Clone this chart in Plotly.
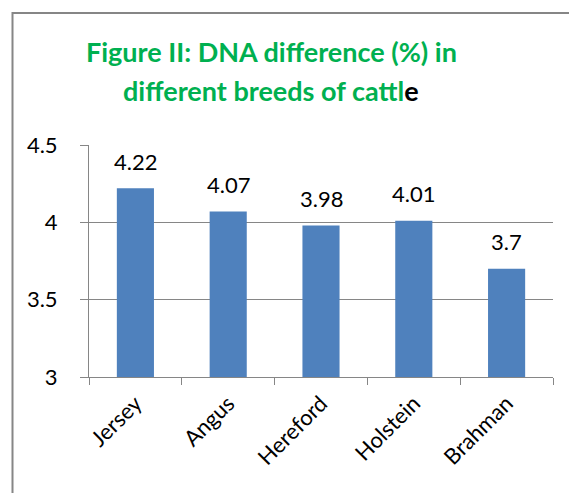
import plotly.graph_objects as go

breeds = ["Jersey", "Angus", "Hereford", "Holstein", "Brahman"]
dna_diff = [4.22, 4.07, 3.98, 4.01, 3.7]
y_ticks = [3, 3.5, 4, 4.5]
y_tick_labels = ["3", "3.5", "4", "4.5"]
title_line1 = "Figure II: DNA difference (%) in"
title_line2 = "different breeds of cattl"
title_last = "e"

FONT = "Lato"
GRAY = "#868686"

# page body has an 8px default margin; compensate so plot area sits at x 89-553, y 145-377
OFF = 8

fig = go.Figure()
fig.add_trace(go.Bar(x=breeds, y=dna_diff, marker=dict(color="#4F81BD", line=dict(width=0)),
                     hoverinfo="x+y"))

for b, v in zip(breeds, dna_diff):
    fig.add_annotation(x=b, y=v, text=str(v), showarrow=False, yanchor="middle", yshift=27,
                       font=dict(family=FONT, size=22, color="black"))

fig.add_annotation(xref="paper", yref="paper", x=(271 - 89) / 464, y=(377 - 51) / 232,
                   text="<b>" + title_line1 + "</b>", showarrow=False, xanchor="center", yanchor="middle",
                   font=dict(family=FONT, size=27, color="#00B050"))
fig.add_annotation(xref="paper", yref="paper", x=(271 - 89) / 464, y=(377 - 91) / 232,
                   text="<b>" + title_line2 + "<span style='color:black'>" + title_last + "</span></b>",
                   showarrow=False, xanchor="center", yanchor="middle",
                   font=dict(family=FONT, size=27, color="#00B050"))

fig.add_shape(type="rect", xref="paper", yref="paper",
              x0=(12.5 - 89) / 464, x1=(590 - 89) / 464, y0=(377 - 510) / 232, y1=(377 - 13) / 232,
              line=dict(color=GRAY, width=2), fillcolor="rgba(0,0,0,0)", layer="below")

fig.update_layout(
    width=577 - OFF, height=493 - OFF,
    margin=dict(l=89 - OFF, r=24, t=145 - OFF, b=116),
    paper_bgcolor="white", plot_bgcolor="white",
    bargap=0.6, showlegend=False,
    font=dict(family=FONT, size=22, color="black"),
)
fig.update_xaxes(showline=True, linecolor=GRAY, linewidth=1, ticks="outside", tickson="boundaries",
                 ticklen=7, tickcolor=GRAY, tickangle=-45, showgrid=False, automargin=False,
                 tickfont=dict(family=FONT, size=22, color="black"), ticklabelstandoff=4)
fig.update_yaxes(range=[3, 4.5], tickvals=y_ticks, ticktext=y_tick_labels, showline=True,
                 linecolor=GRAY, linewidth=1, ticks="outside", ticklen=8, tickcolor=GRAY,
                 showgrid=True, gridcolor=GRAY, gridwidth=1, zeroline=False, automargin=False,
                 tickfont=dict(family=FONT, size=22, color="black"), ticklabelstandoff=18)

fig.write_html("out.html")
